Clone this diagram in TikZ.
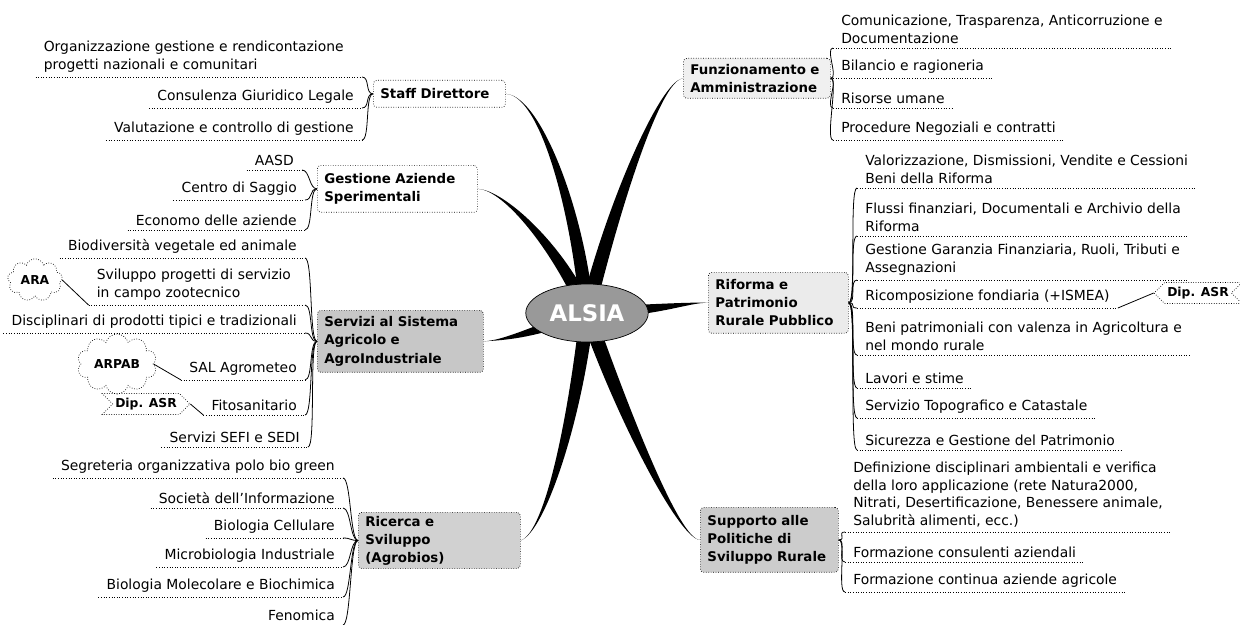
\documentclass[tikz,border=0pt]{standalone}
\usepackage{fontspec}
\setmainfont{DejaVu Sans}
\usetikzlibrary{calc,shapes.geometric,shapes.symbols}

\tikzset{
  topic/.style={draw, densely dotted, rounded corners=2pt, anchor=north west,
    font=\bfseries\fontsize{7.6}{10.3}\selectfont, align=left, inner xsep=4pt, inner ysep=2pt},
  sub/.style={font=\fontsize{7.9}{10}\selectfont, inner xsep=4.5pt, inner ysep=2.5pt},
  uline/.style={densely dotted, line width=0.5pt},
  link/.style={line width=0.45pt},
  callout/.style={draw, densely dotted, font=\bfseries\fontsize{7}{8}\selectfont, inner sep=1.5pt},
}

\begin{document}
\begin{tikzpicture}[x=0.02cm,y=-0.02cm]
    \useasboundingbox (0,0) rectangle (1240,625);

    \coordinate (c) at (587,313);

    % main topics
    \node[topic, text width=2.36cm, minimum height=0.54cm] (staff) at (373,80) {Staff Direttore};
    \node[topic, text width=2.92cm, minimum height=0.94cm] (gestione) at (317,165) {Gestione Aziende\\Sperimentali};
    \node[topic, text width=3.04cm, minimum height=1.24cm, fill=black!22] (servizi) at (317,310) {Servizi al Sistema\\Agricolo e\\AgroIndustriale};
    \node[topic, text width=2.96cm, minimum height=0.9cm, fill=black!18] (ricerca) at (358,512) {Ricerca e\\Sviluppo\\(Agrobios)};
    \node[topic, text width=2.66cm, minimum height=0.8cm, fill=black!6] (funz) at (683,58) {Funzionamento e\\Amministrazione};
    \node[topic, text width=2.52cm, minimum height=1.22cm, fill=black!8] (riforma) at (708,272) {Riforma e\\Patrimonio\\Rurale Pubblico};
    \node[topic, text width=2.48cm, minimum height=1.3cm, fill=black!20] (supporto) at (700,507) {Supporto alle\\Politiche di\\Sviluppo Rurale};

    % tapered branches
    \foreach \n/\an/\ax/\ay/\bx/\by/\dx/\dy in {staff/east/540/95/578/210/7/0,
        gestione/east/505/190/560/250/6/-3, funz/west/660/80/612/210/7/2,
        servizi/east/505/340/530/333/0/6, riforma/west/690/302/660/310/0/6,
        ricerca/east/545/532/575/420/7/1, supporto/west/680/540/625/420/7/-2}
      \fill (\n.\an) .. controls (\ax,\ay) and ($(\bx,\by)+(\dx,\dy)$) .. ($(c)+(\dx,\dy)$)
        -- ($(c)-(\dx,\dy)$) .. controls ($(\bx,\by)-(\dx,\dy)$) and (\ax,\ay) .. (\n.\an);

    \node[ellipse, draw, fill=black!40, minimum width=2.4cm, minimum height=1.16cm,
      font=\bfseries\fontsize{13}{15}\selectfont, text=white] (alsia) at (c) {ALSIA};

    %%%% left side
    \node[sub, anchor=south east, text width=6.2cm, align=left] (s1) at (362,77) {Organizzazione gestione e rendicontazione\\progetti nazionali e comunitari};
    \node[sub, anchor=south east] (s2) at (362,108) {Consulenza Giuridico Legale};
    \node[sub, anchor=south east] (s3) at (362,140) {Valutazione e controllo di gestione};

    \node[sub, anchor=south east] (g1) at (302,170) {AASD};
    \node[sub, anchor=south east] (g2) at (305,200) {Centro di Saggio};
    \node[sub, anchor=south east] (g3) at (305,230) {Economo delle aziende};

    \node[sub, anchor=south east] (v1) at (305,258) {Biodiversità vegetale ed animale};
    \node[sub, anchor=south east, text width=4cm, align=left] (v2) at (305,305) {Sviluppo progetti di servizio\\in campo zootecnico};
    \node[sub, anchor=south east] (v3) at (305,333) {Disciplinari di prodotti tipici e tradizionali};
    \node[sub, anchor=south east] (v4) at (305,380) {SAL Agrometeo};
    \node[sub, anchor=south east] (v5) at (305,415) {Fitosanitario};
    \node[sub, anchor=south east] (v6) at (308,447) {Servizi SEFI e SEDI};

    \node[sub, anchor=south east] (r1) at (343,478) {Segreteria organizzativa polo bio green};
    \node[sub, anchor=south east] (r2) at (343,508) {Società dell'Informazione};
    \node[sub, anchor=south east] (r3) at (343,538) {Biologia Cellulare};
    \node[sub, anchor=south east] (r4) at (343,567) {Microbiologia Industriale};
    \node[sub, anchor=south east] (r5) at (343,597) {Biologia Molecolare e Biochimica};
    \node[sub, anchor=south east] (r6) at (343,625) {Fenomica};

    \node[callout, cloud, cloud puffs=9, aspect=1.5, minimum width=1.1cm, minimum height=0.72cm] (ara) at (35,280) {ARA};
    \node[callout, cloud, cloud puffs=10, aspect=1.6, minimum width=1.46cm, minimum height=0.9cm] (arpab) at (117,364) {ARPAB};
    \node[callout, signal, signal to=east, signal from=west, minimum width=1.5cm, minimum height=0.42cm] (dipl) at (146,404) {Dip. ASR};

    \foreach \n in {s1,s2,s3,g1,g2,g3,v1,v2,v3,v4,v5,v6,r1,r2,r3,r4,r5,r6}
      \draw[uline] (\n.south west) -- (\n.south east);
    \foreach \n in {s1,s2,s3}
      \draw[link] (\n.south east) .. controls +(8,0) and +(-8,0) .. (staff.west);
    \foreach \n in {g1,g2,g3}
      \draw[link] (\n.south east) .. controls +(8,0) and +(-8,0) .. (gestione.west);
    \foreach \n in {v1,v2,v3,v4,v5,v6}
      \draw[link] (\n.south east) .. controls +(8,0) and +(-8,0) .. (servizi.west);
    \foreach \n in {r1,r2,r3,r4,r5,r6}
      \draw[link] (\n.south east) .. controls +(8,0) and +(-8,0) .. (ricerca.west);
    \draw[link] (ara.east) -- (v2.south west);
    \draw[link] (arpab.east) -- (v4.south west);
    \draw[link] (dipl.east) -- (v5.south west);

    %%%% right side
    \node[sub, anchor=south west, align=left] (f1) at (833,48) {Comunicazione, Trasparenza, Anticorruzione e\\Documentazione};
    \node[sub, anchor=south west] (f2) at (833,78) {Bilancio e ragioneria};
    \node[sub, anchor=south west] (f3) at (833,108) {Risorse umane};
    \node[sub, anchor=south west] (f4) at (833,140) {Procedure Negoziali e contratti};

    \node[sub, anchor=south west, align=left] (p1) at (857,188) {Valorizzazione, Dismissioni, Vendite e Cessioni\\Beni della Riforma};
    \node[sub, anchor=south west, align=left] (p2) at (857,236) {Flussi finanziari, Documentali e Archivio della\\Riforma};
    \node[sub, anchor=south west, align=left] (p3) at (857,280) {Gestione Garanzia Finanziaria, Ruoli, Tributi e\\Assegnazioni};
    \node[sub, anchor=south west] (p4) at (857,308) {Ricomposizione fondiaria (+ISMEA)};
    \node[sub, anchor=south west, align=left] (p5) at (857,355) {Beni patrimoniali con valenza in Agricoltura e\\nel mondo rurale};
    \node[sub, anchor=south west] (p6) at (857,388) {Lavori e stime};
    \node[sub, anchor=south west] (p7) at (857,418) {Servizio Topografico e Catastale};
    \node[sub, anchor=south west] (p8) at (857,450) {Sicurezza e Gestione del Patrimonio};

    \node[sub, anchor=south west, align=left] (u1) at (845,532) {Definizione disciplinari ambientali e verifica\\della loro applicazione (rete Natura2000,\\Nitrati, Desertificazione, Benessere animale,\\Salubrità alimenti, ecc.)};
    \node[sub, anchor=south west] (u2) at (845,562) {Formazione consulenti aziendali};
    \node[sub, anchor=south west] (u3) at (845,592) {Formazione continua aziende agricole};

    \node[callout, signal, signal to=west, signal from=east, minimum width=1.5cm, minimum height=0.42cm] (dipr) at (1198,293) {Dip. ASR};

    \foreach \n in {f1,f2,f3,f4,p1,p2,p3,p4,p5,p6,p7,p8,u1,u2,u3}
      \draw[uline] (\n.south west) -- (\n.south east);
    \foreach \n in {f1,f2,f3,f4}
      \draw[link] (funz.east) .. controls +(8,0) and +(-8,0) .. (\n.south west);
    \foreach \n in {p1,p2,p3,p4,p5,p6,p7,p8}
      \draw[link] (riforma.east) .. controls +(8,0) and +(-8,0) .. (\n.south west);
    \foreach \n in {u1,u2,u3}
      \draw[link] (supporto.east) .. controls +(8,0) and +(-8,0) .. (\n.south west);
    \draw[link] (p4.south east) -- (dipr.west);

\end{tikzpicture}
\end{document}
